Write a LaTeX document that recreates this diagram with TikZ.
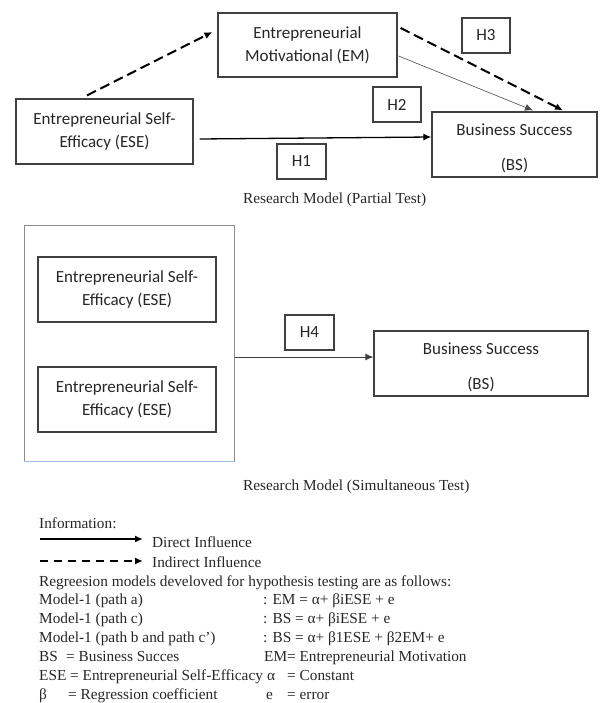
\documentclass[tikz,border=0pt]{standalone}
\usepackage{fontspec}
\setmainfont{Liberation Serif}
\newfontfamily\boxfont{Carlito}
\usetikzlibrary{arrows.meta}
\definecolor{boxline}{rgb}{0.25,0.25,0.25}
\definecolor{txt}{rgb}{0.15,0.15,0.15}
\definecolor{bluish}{rgb}{0.62,0.74,0.92}
\tikzset{
  bx/.style={draw=boxline, line width=1.2pt, inner sep=0pt, align=center, text=txt,
    font=\boxfont\fontsize{17}{23}\selectfont},
  hbox/.style={bx, minimum width=48pt, minimum height=35pt},
  dasharrow/.style={line width=2pt, dash pattern=on 10pt off 5pt, -{Latex[length=8pt,width=7pt]}},
  solidarrow/.style={line width=1.3pt, -{Latex[length=8pt,width=7pt]}},
  thinarrow/.style={line width=0.6pt, draw=black!70, -{Latex[length=8pt,width=7pt]}},
  serif/.style={anchor=base west, inner sep=0pt, text=txt, font=\fontsize{15.3}{18}\selectfont},
}
\begin{document}
\begin{tikzpicture}[x=1pt,y=-1pt]
\useasboundingbox (0,0) rectangle (600,703);
% ---------- Partial test ----------
\node[bx, minimum width=179pt, minimum height=64pt] (em) at (307.5,45) {Entrepreneurial\\Motivational (EM)};
\node[bx, minimum width=177pt, minimum height=65pt] (ese) at (104.5,131.5) {Entrepreneurial Self-\\Efficacy (ESE)};
\node[bx, minimum width=165pt, minimum height=65pt] (bs) at (514.5,144.5) {\rule{0pt}{20pt}Business Success\\[12pt](BS)};
\node[hbox, minimum width=49pt] (h1) at (301.5,161.5) {H1};
\node[hbox] (h2) at (397,104.5) {H2};
\node[hbox] (h3) at (486,35.5) {H3};
\draw[dasharrow] ([xshift=-17.5pt,yshift=3pt]ese.north) -- ([xshift=-5pt,yshift=13pt]em.west);
\draw[dasharrow] ([xshift=3pt,yshift=17pt]em.east) -- ([xshift=48.5pt,yshift=1pt]bs.north);
\draw[thinarrow] ([xshift=1pt,yshift=-11pt]em.east) -- ([xshift=18.5pt,yshift=1pt]bs.north);
\draw[solidarrow] ([xshift=6pt,yshift=-7.5pt]ese.east) -- ([yshift=7.5pt]bs.west);
\node[serif] (cap1) at (243,204) {Research Model (Partial Test)};
% ---------- Simultaneous test ----------
\node[draw=black!45, line width=1pt, minimum width=210pt, minimum height=236pt, inner sep=0pt] (outer) at (129,343) {};
\draw[bluish, line width=1.2pt] (outer.south west) -- (outer.south east);
\node[bx, minimum width=178pt, minimum height=65pt] (esea) at (127,289.5) {Entrepreneurial Self-\\Efficacy (ESE)};
\node[bx, minimum width=178pt, minimum height=65pt] (eseb) at (127,399.5) {Entrepreneurial Self-\\Efficacy (ESE)};
\node[hbox, minimum width=49pt] (h4) at (309.5,332.5) {H4};
\node[bx, minimum width=214pt, minimum height=65pt] (bs2) at (481,363.5) {\rule{0pt}{20pt}Business Success\\[12pt](BS)};
\draw[line width=0.9pt, draw=black!75, -{Latex[length=8pt,width=7pt]}] ([yshift=-14pt]outer.east) -- ([yshift=6.5pt]bs2.west);
\node[serif] (cap2) at (243,490) {Research Model (Simultaneous Test)};
% ---------- Legend ----------
\node[serif] (info) at (39,528) {Information:};
\coordinate (la1) at (40,539);
\coordinate (la2) at (143,539);
\draw[line width=1.8pt, -{Latex[length=8pt,width=7pt]}] (la1) -- (la2);
\node[serif] (direct) at (152,547) {Direct Influence};
\coordinate (lb1) at (40,561);
\coordinate (lb2) at (143,561);
\draw[line width=2pt, dash pattern=on 8pt off 6pt, -{Latex[length=8pt,width=7pt]}] (lb1) -- (lb2);
\node[serif] (indirect) at (152,567) {Indirect Influence};
\node[serif] (regr) at (39,586) {Regreesion models develoved for hypothesis testing are as follows:};
\node[serif] (m1) at (39,604) {Model-1 (path a)};
\node[serif] (e1) at (263,604) {: EM = α+ βiESE + e};
\node[serif] (m2) at (39,623) {Model-1 (path c)};
\node[serif] (e2) at (263,623) {: BS = α+ βiESE + e};
\node[serif] (m3) at (39,642) {Model-1 (path b and path c’)};
\node[serif] (e3) at (263,642) {: BS = α+ β1ESE + β2EM+ e};
\node[serif] (d1) at (39,661) {BS};
\node[serif] (d1b) at (66,661) {= Business Succes};
\node[serif] (d2) at (264,661) {EM= Entrepreneurial Motivation};
\node[serif] (d3) at (39,680) {ESE = Entrepreneurial Self-Efficacy};
\node[serif] (d4) at (267,680) {α};
\node[serif] (d4b) at (287,680) {= Constant};
\node[serif] (d5) at (39,699) {β};
\node[serif] (d5b) at (68,699) {= Regression coefficient};
\node[serif] (d6) at (266,699) {e};
\node[serif] (d6b) at (287,699) {= error};
\end{tikzpicture}
\end{document}
